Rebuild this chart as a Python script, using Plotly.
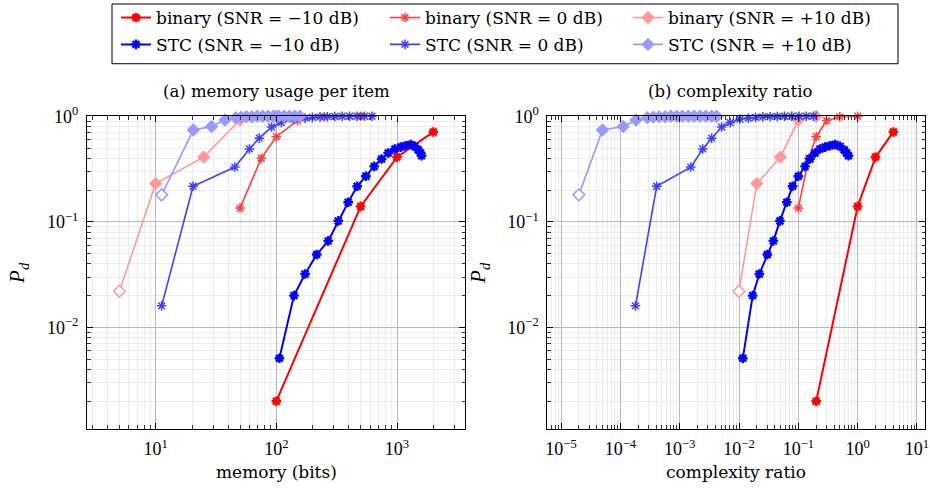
import plotly.graph_objects as go

# ---------------- data ----------------
# binary, SNR = -10 dB
bin_m10_mem = [100, 500, 1000, 2000]
bin_m10_cx = [0.2, 1.0, 2.0, 4.0]
bin_m10_pd = [0.002, 0.14, 0.41, 0.71]
# binary, SNR = 0 dB
bin_0_mem = [50, 75, 100, 150, 250, 500]
bin_0_cx = [0.1, 0.15, 0.2, 0.3, 0.5, 1.0]
bin_0_pd = [0.135, 0.40, 0.64, 0.91, 0.985, 1.0]
# binary, SNR = +10 dB
bin_p10_mem = [5, 10, 25, 50, 100]
bin_p10_cx = [0.01, 0.02, 0.05, 0.1, 0.2]
bin_p10_pd = [0.022, 0.23, 0.41, 0.92, 1.0]

# STC, SNR = -10 dB
stc_m10_mem = [106, 140, 173, 216, 269, 326, 394, 468, 552, 647, 745, 845, 961,
               1071, 1178, 1297, 1407, 1499, 1568, 1598]
stc_m10_cx = [0.0116, 0.017, 0.022, 0.030, 0.038, 0.049, 0.064, 0.080, 0.100, 0.130,
              0.157, 0.191, 0.232, 0.282, 0.343, 0.416, 0.505, 0.59, 0.65, 0.70]
stc_m10_pd = [0.0051, 0.020, 0.032, 0.049, 0.066, 0.102, 0.153, 0.217, 0.27, 0.335,
              0.393, 0.448, 0.489, 0.51, 0.526, 0.540, 0.518, 0.482, 0.448, 0.423]
# STC, SNR = 0 dB
stc_0_mem = [11.2, 20.4, 45.3, 59.8, 72.2, 91.4, 110, 138, 173, 199, 230, 265, 305,
             351, 405, 466, 538, 620]
stc_0_cx = [1.8e-4, 4.1e-4, 1.54e-3, 2.45e-3, 3.47e-3, 5.1e-3, 7.1e-3, 0.0104, 0.0144,
            0.019, 0.0252, 0.0334, 0.0442, 0.0585, 0.0775, 0.103, 0.136, 0.18]
stc_0_pd = [0.016, 0.217, 0.33, 0.49, 0.62, 0.79, 0.87, 0.94, 0.96, 0.975, 0.985, 0.99,
            0.995, 1.0, 1.0, 1.0, 1.0, 1.0]
# STC, SNR = +10 dB
stc_p10_mem = [11.2, 20.5, 29, 37.5, 46, 51, 56.5, 62.6, 69.4, 76.9, 85.2, 94.4, 104.6,
               115.9, 128.4, 142.3, 157]
stc_p10_cx = [2.0e-5, 5.0e-5, 1.12e-4, 1.84e-4, 2.85e-4, 3.6e-4, 4.5e-4, 5.7e-4, 7.1e-4,
              8.9e-4, 1.11e-3, 1.4e-3, 1.75e-3, 2.2e-3, 2.75e-3, 3.47e-3, 4.2e-3]
stc_p10_pd = [0.18, 0.74, 0.80, 0.92, 0.97, 0.98, 0.99, 0.99, 1.0, 1.0, 1.0, 1.0, 1.0,
              1.0, 1.0, 1.0, 1.0]

names = ["binary (SNR = −10 dB)", "binary (SNR = 0 dB)", "binary (SNR = +10 dB)",
         "STC (SNR = −10 dB)", "STC (SNR = 0 dB)", "STC (SNR = +10 dB)"]

# ---------------- styles ----------------
W, H = 930, 492
FONT = "Liberation Serif"
LFONT = "DejaVu Serif"
series = [
    (bin_m10_mem, bin_m10_cx, bin_m10_pd, "#ff0000", "asterisk", 2.0, 2.4, 8),
    (bin_0_mem, bin_0_cx, bin_0_pd, "#ff4040", "asterisk", 1.6, 1.5, 8),
    (bin_p10_mem, bin_p10_cx, bin_p10_pd, "#ff9999", "diamond", 1.6, 1.2, 9),
    (stc_m10_mem, stc_m10_cx, stc_m10_pd, "#0000ff", "asterisk", 2.0, 2.4, 8),
    (stc_0_mem, stc_0_cx, stc_0_pd, "#4040ff", "asterisk", 1.6, 1.5, 8),
    (stc_p10_mem, stc_p10_cx, stc_p10_pd, "#9999ff", "diamond", 1.6, 1.2, 9),
]

# legend placement (pixels): column line starts, row centres
col_px = [116, 385, 628]
row_px = [16, 43]

fig = go.Figure()
for i, (mem, cx, pd, col, sym, lw, mlw, ms) in enumerate(series):
    lg = "legend" if i == 0 else f"legend{i+1}"
    mk = dict(symbol=sym, size=ms, color=col, line=dict(color=col, width=mlw))
    for xs, xa, ya, show in ((mem, "x", "y", True), (cx, "x2", "y2", False)):
        fig.add_trace(go.Scatter(x=xs, y=pd, mode="lines+markers", name=names[i],
                                 line=dict(color=col, width=lw), marker=mk,
                                 xaxis=xa, yaxis=ya, legend=lg, showlegend=show,
                                 cliponaxis=False))
        if sym == "diamond":
            # first point drawn as an open diamond, as in the reference
            fig.add_trace(go.Scatter(x=xs[:1], y=pd[:1], mode="markers",
                                     marker=dict(symbol="diamond", size=ms, color="white",
                                                 line=dict(color=col, width=1.4)),
                                     xaxis=xa, yaxis=ya, showlegend=False,
                                     cliponaxis=False, hoverinfo="skip"))

# ---------------- axes ----------------
def sup(k):
    s = str(k).replace("-", "−")
    return f"10<sup>{s}</sup>"

def minors(lo, hi):
    out = []
    for k in range(lo, hi + 1):
        for m in range(2, 10):
            out.append(m * 10.0 ** k)
    return out

y_dom = [1 - 428.3 / H, 1 - 114.7 / H]
xl_dom = [87 / W, 465 / W]
xr_dom = [547.3 / W, 925 / W]

common = dict(type="log", showline=True, linecolor="black", linewidth=1, mirror="allticks",
              ticks="inside", ticklen=6, tickcolor="black", tickwidth=1,
              showgrid=True, gridcolor="#b8b8b8", gridwidth=1, zeroline=False,
              tickfont=dict(family=FONT, size=18, color="black"), automargin=False,
              ticklabelstandoff=4)

def minor_cfg(lo, hi):
    return dict(tickvals=minors(lo, hi), ticks="inside", ticklen=3.5, tickcolor="#333333",
                showgrid=True, gridcolor="#ececec", gridwidth=1)

yk = [-2, -1, 0]
ycfg = dict(common, range=[-2.958, 0.0], tickvals=[10.0 ** k for k in yk],
            ticktext=[sup(k) for k in yk], minor=minor_cfg(-3, -1))
xlk = [1, 2, 3]
xrk = [-5, -4, -3, -2, -1, 0, 1]

fig.update_layout(
    width=W, height=H, margin=dict(l=0, r=0, t=0, b=0),
    paper_bgcolor="white", plot_bgcolor="white",
    font=dict(family=FONT, size=18, color="black"),
    xaxis=dict(common, domain=xl_dom, anchor="y", range=[0.4306, 3.5636],
               tickvals=[10.0 ** k for k in xlk], ticktext=[sup(k) for k in xlk],
               minor=minor_cfg(0, 3)),
    yaxis=dict(ycfg, domain=y_dom, anchor="x"),
    xaxis2=dict(common, domain=xr_dom, anchor="y2", range=[-5.231, 1.135],
                tickvals=[10.0 ** k for k in xrk], ticktext=[sup(k) for k in xrk],
                minor=minor_cfg(-6, 1)),
    yaxis2=dict(ycfg, domain=y_dom, anchor="x2"),
    showlegend=True,
)

# legends: one per entry, arranged as 3 columns x 2 rows
for i in range(6):
    key = "legend" if i == 0 else f"legend{i+1}"
    r, c = divmod(i, 3)
    fig.update_layout({key: dict(x=col_px[c] / W, y=1 - row_px[r] / H,
                                 xanchor="left", yanchor="middle",
                                 bgcolor="rgba(0,0,0,0)", borderwidth=0,
                                 font=dict(family=LFONT, size=17, color="black"),
                                 itemwidth=30, tracegroupgap=0)})

# legend frame
fig.add_shape(type="rect", xref="paper", yref="paper", x0=112 / W, x1=898 / W,
              y0=1 - 62 / H, y1=1 - 2 / H, line=dict(color="black", width=1))

# subtitles and axis titles
ann = [
    dict(text="(a) memory usage per item", x=276 / W, y=1 - 90 / H, size=16.5, angle=0, f=LFONT),
    dict(text="(b) complexity ratio", x=730 / W, y=1 - 90 / H, size=16.5, angle=0, f=LFONT),
    dict(text="memory (bits)", x=276 / W, y=1 - 472 / H, size=17, angle=0, f=LFONT),
    dict(text="complexity ratio", x=736 / W, y=1 - 472 / H, size=17, angle=0, f=LFONT),
    dict(text="<i>P<sub>d</sub></i>", x=18 / W, y=1 - 272 / H, size=21, angle=-90, f=FONT),
    dict(text="<i>P<sub>d</sub></i>", x=479 / W, y=1 - 272 / H, size=21, angle=-90, f=FONT),
]
for a in ann:
    fig.add_annotation(text=a["text"], x=a["x"], y=a["y"], xref="paper", yref="paper",
                       showarrow=False, xanchor="center", yanchor="middle",
                       textangle=a["angle"], font=dict(family=a["f"], size=a["size"], color="black"))

fig.write_html("out.html")
